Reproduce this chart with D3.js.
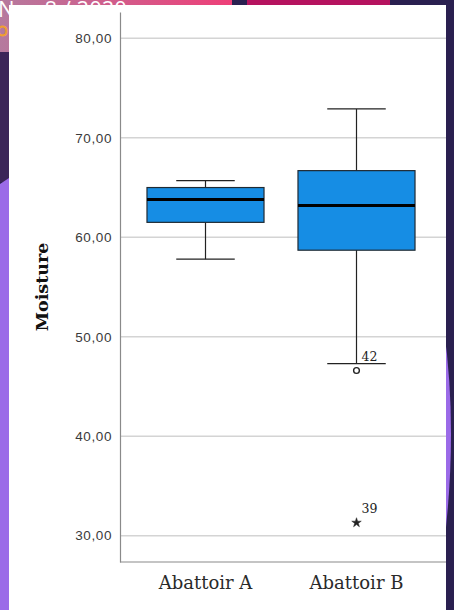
<!DOCTYPE html>
<html>
<head>
<meta charset="utf-8">
<script src="https://cdn.jsdelivr.net/npm/d3@7"></script>
<style>
  body { margin: 0; background: #2a2050; }
  svg { display: block; }
</style>
</head>
<body>
<svg id="chart" width="454" height="610"></svg>
<script>
// box plot values
var groups = ["Abattoir A", "Abattoir B"];
var whiskerLow = [57.8, 47.3];
var q1 = [61.5, 58.7];
var median = [63.8, 63.2];
var q3 = [65.0, 66.7];
var whiskerHigh = [65.7, 72.9];

// outliers (o) and extremes (*) with case numbers
var outGroup = ["Abattoir B", "Abattoir B"];
var outValue = [46.6, 31.3];
var outCase = ["42", "39"];
var outKind = ["circle", "star"];

var yTicks = [30, 40, 50, 60, 70, 80];

const svg = d3.select("#chart");

// slide background behind the chart panel
var bg = svg.append("g");
var grad = svg.append("defs").append("linearGradient").attr("id", "topGrad");
grad.append("stop").attr("offset", "0%").attr("stop-color", "#b57a9e");
grad.append("stop").attr("offset", "100%").attr("stop-color", "#ee3f78");
bg.append("rect").attr("x", 0).attr("y", 0).attr("width", 454).attr("height", 610).attr("fill", "#2a2050");
bg.append("rect").attr("x", 0).attr("y", 0).attr("width", 232).attr("height", 52).attr("fill", "url(#topGrad)");
bg.append("rect").attr("x", 247).attr("y", 0).attr("width", 143).attr("height", 8).attr("fill", "#b5135f");
bg.append("rect").attr("x", 0).attr("y", 52).attr("width", 12).attr("height", 130).attr("fill", "#3b2558");
bg.append("path").attr("d", "M0,184 Q6,180 12,176 L12,610 L0,610 Z").attr("fill", "#9b6be8");
bg.append("path").attr("d", "M444,330 Q458,430 444,545 Z").attr("fill", "#9b6be8");
bg.append("text").attr("x", -2).attr("y", 17).attr("fill", "#fff")
  .style("font-family", "Open Sans").style("font-size", "22px").text("Nov 8 / 2020");
bg.append("text").attr("x", -3).attr("y", 36).attr("fill", "none").attr("stroke", "#f0a030")
  .style("font-family", "Open Sans").style("font-size", "14px").text("O");

// white chart panel
svg.append("rect").attr("x", 9).attr("y", 5).attr("width", 437).attr("height", 605).attr("fill", "#fff");

var plotLeft = 120, plotRight = 446, plotTop = 12, plotBottom = 562;

var y = d3.scaleLinear().domain([27.35, 82.65]).range([plotBottom, plotTop]);
var x = d3.scaleBand().domain(groups).range([130, 432]).paddingInner(0.225).paddingOuter(0.1125);
var fmt = function(d){ return d3.format(".2f")(d).replace(".", ","); };

// gridlines
svg.append("g").selectAll("line").data(yTicks).enter().append("line")
  .attr("x1", plotLeft).attr("x2", plotRight)
  .attr("y1", function(d){ return y(d); }).attr("y2", function(d){ return y(d); })
  .attr("stroke", "#d4d4d4").attr("stroke-width", 1.5);

// y axis
var yAxis = d3.axisLeft(y).tickValues(yTicks).tickFormat(fmt).tickSize(0).tickPadding(8);
var gy = svg.append("g").attr("transform", "translate(" + plotLeft + ",0)").call(yAxis);
gy.select(".domain").attr("stroke", "#8a8a8a").attr("stroke-width", 1.2);
gy.selectAll("text").style("font-family", "Liberation Sans, Arial, sans-serif")
  .style("font-size", "13.5px").style("letter-spacing", "0.6px").attr("fill", "#3a3a3a");

// x axis
var xAxis = d3.axisBottom(x).tickSize(0).tickPadding(14);
var gx = svg.append("g").attr("transform", "translate(0," + plotBottom + ")").call(xAxis);
gx.select(".domain").attr("d", "M" + plotLeft + ",0H" + plotRight).attr("stroke", "#8a8a8a").attr("stroke-width", 1.2);
gx.selectAll("text").style("font-family", "DejaVu Serif, serif")
  .style("font-size", "18px").attr("fill", "#2a2a2a");

// y title
svg.append("text").attr("transform", "translate(48," + y(55) + ") rotate(-90)")
  .attr("text-anchor", "middle")
  .style("font-family", "DejaVu Serif, serif").style("font-weight", "bold").style("font-size", "17.5px")
  .attr("fill", "#111").text("Moisture");

// boxes
var boxes = svg.append("g").selectAll("g").data(groups).enter().append("g");
var bw = x.bandwidth();

boxes.append("line")
  .attr("x1", function(d){ return x(d) + bw/2; }).attr("x2", function(d){ return x(d) + bw/2; })
  .attr("y1", function(d,i){ return y(whiskerHigh[i]); }).attr("y2", function(d,i){ return y(whiskerLow[i]); })
  .attr("stroke", "#222").attr("stroke-width", 1.2);

boxes.selectAll(".cap").data(function(d,i){ return [[d, whiskerLow[i]], [d, whiskerHigh[i]]]; })
  .enter().append("line").attr("class", "cap")
  .attr("x1", function(d){ return x(d[0]) + bw/4; }).attr("x2", function(d){ return x(d[0]) + bw*3/4; })
  .attr("y1", function(d){ return y(d[1]); }).attr("y2", function(d){ return y(d[1]); })
  .attr("stroke", "#222").attr("stroke-width", 1.2);

boxes.append("rect")
  .attr("x", function(d){ return x(d); }).attr("width", bw)
  .attr("y", function(d,i){ return y(q3[i]); })
  .attr("height", function(d,i){ return y(q1[i]) - y(q3[i]); })
  .attr("fill", "#168de4").attr("stroke", "#1f2a33").attr("stroke-width", 1.2);

boxes.append("line")
  .attr("x1", function(d){ return x(d); }).attr("x2", function(d){ return x(d) + bw; })
  .attr("y1", function(d,i){ return y(median[i]); }).attr("y2", function(d,i){ return y(median[i]); })
  .attr("stroke", "#000").attr("stroke-width", 3);

// outliers and extremes
var outs = svg.append("g").selectAll("g").data(outValue).enter().append("g")
  .attr("transform", function(d,i){ return "translate(" + (x(outGroup[i]) + bw/2) + "," + y(d) + ")"; });

outs.append("path")
  .attr("d", function(d,i){ return d3.symbol().type(outKind[i] == "star" ? d3.symbolStar : d3.symbolCircle).size(outKind[i] == "star" ? 28 : 26)(); })
  .attr("fill", function(d,i){ return outKind[i] == "star" ? "#222" : "none"; })
  .attr("stroke", "#222").attr("stroke-width", function(d,i){ return outKind[i] == "star" ? 0.5 : 1.4; });

outs.append("text").attr("x", 5).attr("y", -10)
  .style("font-family", "DejaVu Serif, serif").style("font-size", "12.5px").attr("fill", "#222")
  .text(function(d,i){ return outCase[i]; });
</script>
</body>
</html>
